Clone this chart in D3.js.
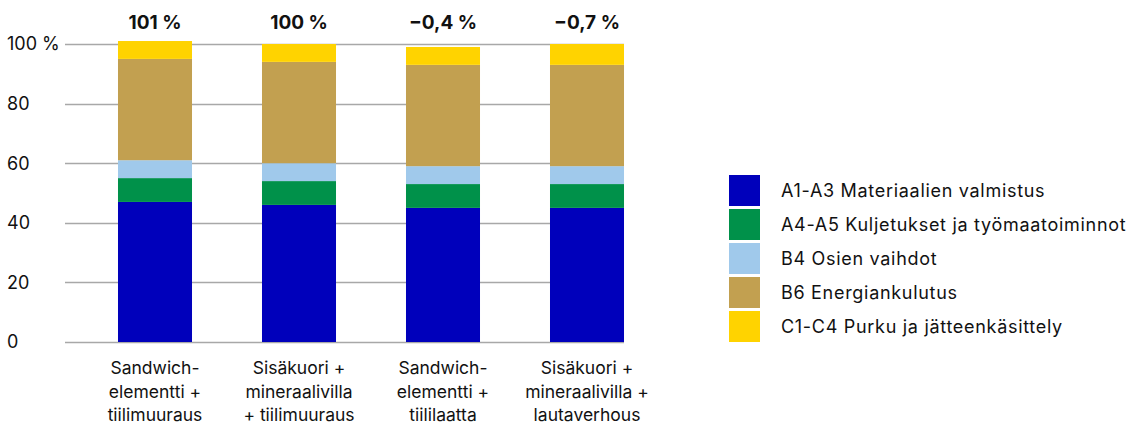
<!DOCTYPE html>
<html><head><meta charset="utf-8">
<script src="https://cdn.jsdelivr.net/npm/d3@7"></script>
<style>body{margin:0;background:#fff;}svg{display:block;font-family:Inter,"Noto Sans",sans-serif;}</style>
</head><body><svg id="c" width="1134" height="425"></svg>
<script>
const categories = [
  ["Sandwich-", "elementti +", "tiilimuuraus"],
  ["Sisäkuori +", "mineraalivilla", "+ tiilimuuraus"],
  ["Sandwich-", "elementti +", "tiililaatta"],
  ["Sisäkuori +", "mineraalivilla +", "lautaverhous"]
];
const seriesNames = ["A1-A3 Materiaalien valmistus","A4-A5 Kuljetukset ja työmaatoiminnot","B4 Osien vaihdot","B6 Energiankulutus","C1-C4 Purku ja jätteenkäsittely"];
const seriesColors = ["#0000BB","#00914A","#A0C9EB","#C2A050","#FFD300"];
const a1a3 = [47, 46, 45, 45];
const a4a5 = [8, 8, 8, 8];
const b4 = [6, 6, 6, 6];
const b6 = [34, 34, 34, 34];
const c1c4 = [6, 6, 6, 7];
const topLabels = ["101 %", "100 %", "−0,4 %", "−0,7 %"];
const yTicks = [0, 20, 40, 60, 80, 100];

const svg = d3.select("#c");
const y = d3.scaleLinear().domain([0, 100]).range([342, 44]);
const x = d3.scaleBand().domain(d3.range(categories.length)).range([83, 659]).paddingInner(0.486).paddingOuter(0.243);

// gridlines
svg.append("g").selectAll("line").data(yTicks).join("line")
  .attr("x1", 65).attr("x2", 624)
  .attr("y1", d => Math.round(y(d)) + 0.5).attr("y2", d => Math.round(y(d)) + 0.5)
  .attr("stroke", "#a8a8a8").attr("stroke-width", 1.5);

// y tick labels
svg.append("g").selectAll("text").data(yTicks).join("text")
  .attr("x", 7).attr("y", d => y(d)).attr("dy", "0.35em")
  .attr("font-size", 18).attr("fill", "#111")
  .text(d => d === 100 ? "100 %" : d);

const rows = categories.map((c, i) => ({i, s0: a1a3[i], s1: a4a5[i], s2: b4[i], s3: b6[i], s4: c1c4[i]}));
const stack = d3.stack().keys(["s0","s1","s2","s3","s4"])(rows);
svg.append("g").selectAll("g").data(stack).join("g")
  .attr("fill", (d, k) => seriesColors[k])
  .selectAll("rect").data(d => d).join("rect")
  .attr("x", d => x(d.data.i)).attr("width", x.bandwidth())
  .attr("y", d => y(d[1])).attr("height", d => y(d[0]) - y(d[1]));

// top labels
svg.append("g").selectAll("text").data(topLabels).join("text")
  .attr("x", (d, i) => x(i) + x.bandwidth() / 2).attr("y", 22).attr("dy", "0.35em")
  .attr("text-anchor", "middle").attr("font-size", 19).attr("font-weight", 700).attr("fill", "#111")
  .text(d => d);

// x labels
const xl = svg.append("g").selectAll("text").data(categories).join("text")
  .attr("text-anchor", "middle").attr("font-size", 17.5).attr("fill", "#111")
  .attr("x", (d, i) => x(i) + x.bandwidth() / 2);
xl.selectAll("tspan").data(d => d).join("tspan")
  .attr("x", function () { return this.parentNode.getAttribute("x"); })
  .attr("y", (d, j) => 374 + j * 23.5).text(d => d);

// legend
const lg = svg.append("g").selectAll("g").data(seriesNames).join("g")
  .attr("transform", (d, k) => `translate(729,${175 + k * 34})`);
lg.append("rect").attr("width", 31).attr("height", 31).attr("fill", (d, k) => seriesColors[k]);
lg.append("text").attr("x", 52).attr("y", 15.5).attr("dy", "0.35em")
  .attr("font-size", 18).attr("letter-spacing", 0.7).attr("fill", "#111").text(d => d);
</script></body></html>
